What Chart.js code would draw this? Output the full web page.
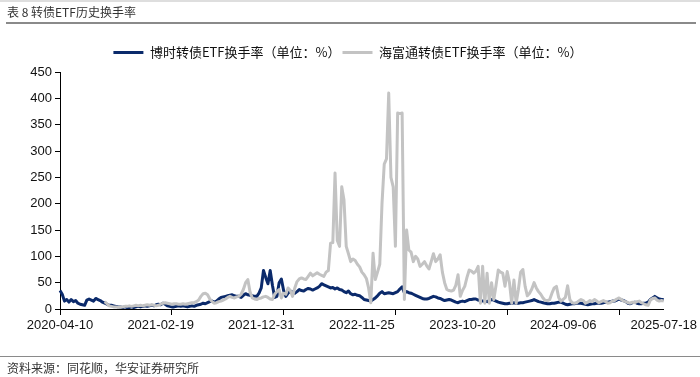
<!DOCTYPE html>
<html>
<head>
<meta charset="utf-8">
<script src="https://cdn.jsdelivr.net/npm/chart.js@4.4.1/dist/chart.umd.min.js"></script>
<style>
body{margin:0;background:#fff;}
#marco{position:relative;width:700px;height:377px;overflow:hidden;background:#fff;}
#grafica{position:absolute;left:0;top:0;}
.franja{position:absolute;left:0;top:0;width:700px;height:2px;background:#dedede;}
.titulo{position:absolute;left:7px;top:5px;font-size:12px;line-height:14px;color:#333;font-family:"Noto Sans CJK SC";}
.regla{position:absolute;left:6px;top:22px;width:690px;height:2px;background:#8a8a8a;}
.reglapie{position:absolute;left:0;top:356px;width:700px;height:1px;background:#8a8a8a;}
.pie{position:absolute;left:7px;top:361px;font-size:12px;line-height:14px;color:#333;font-family:"Noto Sans CJK SC";}
</style>
</head>
<body>
<div id="marco">
  <canvas id="grafica" width="700" height="377"></canvas>
  <div class="franja"></div>
  <div class="titulo">表 8 转债ETF历史换手率</div>
  <div class="regla"></div>
  <div class="reglapie"></div>
  <div class="pie">资料来源：同花顺，华安证券研究所</div>
</div>
<script>
// semanas cerradas por feriado (no hay dato)
var semanasomitidas=["2022-02-04","2022-10-07","2023-01-27","2023-10-06","2024-02-16"];
var fechas=[];
var dia=Date.UTC(2020,3,10);
while(dia<=Date.UTC(2025,6,18)){
    var texto=new Date(dia).toISOString().slice(0,10);
    if(semanasomitidas.indexOf(texto)<0){ fechas.push(texto); }
    dia+=7*86400000;
}

var etiquetas=["2020-04-10","2021-02-19","2021-12-31","2022-11-25","2023-10-20","2024-09-06","2025-07-18"];
var marcasy=[0,50,100,150,200,250,300,350,400,450];

var nombrebosera="博时转债ETF换手率（单位：%）";
var nombrehft="海富通转债ETF换手率（单位：%）";

var valoresbosera=[
    35,28,15,18,13,18,14,16,11,9,
    8,7,17,19,17,15,20,18,16,13,
    11,9,7,7,6,5,4,4,3,4,
    3,3,4,3,4,5,4,5,6,5,
    6,7,6,8,9,8,11,9,6,5,
    4,4,5,6,5,6,5,4,5,6,
    5,7,8,9,11,10,12,14,15,13,
    15,19,22,23,24,25,26,27,25,24,
    24,22,26,29,27,26,25,24,24,30,
    40,73,60,48,73,45,22,24,50,57,
    35,24,30,34,32,30,33,37,35,34,
    37,39,38,36,38,40,43,48,46,44,
    42,40,41,38,40,37,36,33,31,34,
    29,27,28,26,25,22,18,17,16,15,
    18,21,25,30,33,29,30,31,30,29,
    31,33,38,42,31,33,31,30,28,26,
    24,22,20,19,19,20,22,24,23,21,
    20,18,16,17,18,17,15,13,12,14,
    15,14,16,18,18,19,19,17,16,15,
    15,14,16,18,17,15,13,12,11,10,
    10,11,11,12,11,11,12,12,13,14,
    15,16,18,16,14,13,12,11,10,10,
    11,11,12,13,13,11,9,8,9,10,
    10,11,11,11,10,9,8,9,10,10,
    11,11,11,12,13,13,14,15,15,17,
    19,17,16,14,11,10,12,13,11,10,
    10,11,11,13,18,21,24,21,19,18,18
];

var valoreshft=[
    null,null,null,null,null,null,null,null,null,null,
    null,null,null,null,null,null,null,null,null,null,
    14,10,6,5,4,4,3,4,4,5,
    5,6,5,6,7,6,7,6,7,8,
    7,8,7,6,7,9,11,12,11,10,
    9,10,10,9,9,10,9,10,11,12,
    12,14,17,24,29,30,27,19,14,11,
    12,14,15,17,19,22,24,22,21,23,
    24,28,37,50,56,32,21,19,18,20,
    21,23,24,22,19,18,28,33,37,21,
    30,28,40,35,24,40,52,57,59,57,
    56,62,68,63,66,69,66,64,62,70,
    73,125,126,258,130,119,232,207,119,105,
    90,95,92,85,80,70,65,58,40,12,
    106,56,70,85,200,275,285,410,250,232,
    119,372,371,372,18,150,112,108,90,100,
    95,81,85,90,82,76,90,105,90,95,
    103,70,50,37,35,34,36,45,65,24,
    35,43,60,74,72,68,72,81,11,81,
    11,68,11,50,18,45,74,70,68,43,
    71,50,11,55,11,37,70,75,43,25,
    30,38,50,40,33,28,21,16,16,18,
    30,40,43,22,15,18,22,44,18,12,
    11,12,15,18,16,11,13,16,14,18,
    15,12,14,16,14,11,12,15,16,19,
    21,18,15,14,12,11,13,12,14,15,
    12,10,8,7,17,20,21,17,15,16,15
];

// la leyenda necesita unos px mas de alto y correrse a la derecha
var ajustelegenda={
    id:"ajustelegenda",
    beforeInit:function(chart){
        var fitoriginal=chart.legend.fit;
        chart.legend.fit=function(){
            fitoriginal.bind(chart.legend)();
            this.height+=3;
        };
    },
    afterLayout:function(chart){
        chart.legend.left+=16;
        chart.legend.right+=16;
    }
};

var graficacontexto=document.getElementById("grafica");
var grafica=new Chart(graficacontexto,{
    type:"line",
    data:{
        labels:fechas,
        datasets:[{
            label:nombrebosera,
            data:valoresbosera,
            borderColor:"#0b2a6b",
            backgroundColor:"#0b2a6b",
            borderWidth:3,
            borderJoinStyle:"round",
            pointRadius:0,
            tension:0,
            order:1
        },{
            label:nombrehft,
            data:valoreshft,
            borderColor:"#c3c3c3",
            backgroundColor:"#c3c3c3",
            borderWidth:3,
            borderJoinStyle:"round",
            pointRadius:0,
            tension:0,
            order:0
        }]
    },
    options:{
        responsive:false,
        animation:false,
        layout:{padding:{top:44,right:36,bottom:38,left:0}},
        plugins:{
            tooltip:{enabled:false},
            legend:{
                position:"top",
                labels:{
                    usePointStyle:true,
                    pointStyle:"line",
                    pointStyleWidth:30,
                    padding:2,
                    color:"#111",
                    font:{family:"Noto Sans CJK SC",size:13},
                    sort:function(a,b){ return a.datasetIndex-b.datasetIndex; }
                }
            }
        },
        scales:{
            x:{
                offset:false,
                afterFit:function(escala){ escala.height=30; },
                border:{display:true,color:"#000",width:1},
                grid:{
                    drawOnChartArea:false,
                    drawTicks:true,
                    tickLength:6,
                    color:function(c){ return c.index%50===0 ? "#000" : "rgba(0,0,0,0)"; }
                },
                ticks:{
                    autoSkip:false,
                    maxRotation:0,
                    minRotation:0,
                    padding:3,
                    color:"#111",
                    font:{family:"Liberation Sans",size:13},
                    callback:function(valor,indice){
                        return indice%45===0 ? etiquetas[indice/45] : "";
                    }
                }
            },
            y:{
                min:0,
                max:450,
                afterFit:function(escala){ escala.width=60; },
                afterBuildTicks:function(escala){
                    escala.ticks=marcasy.map(function(v){ return {value:v}; });
                },
                border:{display:true,color:"#000",width:1},
                grid:{drawOnChartArea:false,drawTicks:true,tickLength:5,color:"#000"},
                ticks:{
                    padding:3,
                    color:"#111",
                    font:{family:"Liberation Sans",size:13}
                }
            }
        }
    },
    plugins:[ajustelegenda]
});
</script>
</body>
</html>
